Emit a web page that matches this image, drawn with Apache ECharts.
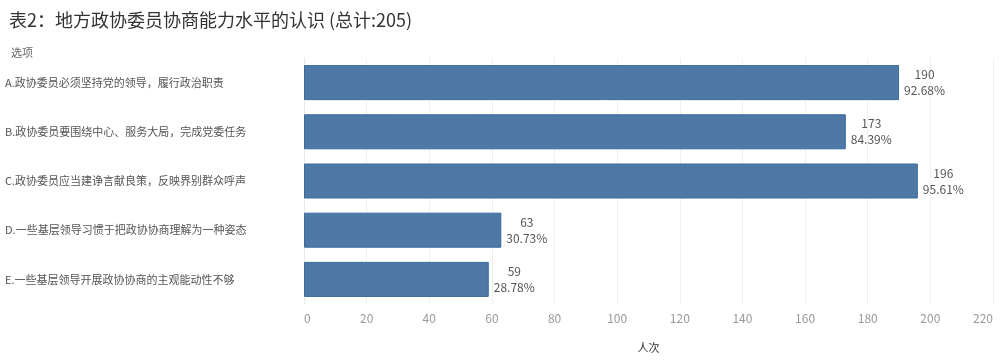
<!DOCTYPE html>
<html><head><meta charset="utf-8">
<script src="https://cdn.jsdelivr.net/npm/echarts@6/dist/echarts.min.js"></script>
<style>html,body{margin:0;padding:0;background:#fff}#c{width:1000px;height:362px}</style>
</head><body><div id="c"></div>
<script>
const categories = [
  "A.政协委员必须坚持党的领导，履行政治职责",
  "B.政协委员要围绕中心、服务大局，完成党委任务",
  "C.政协委员应当建诤言献良策，反映界别群众呼声",
  "D.一些基层领导习惯于把政协协商理解为一种姿态",
  "E.一些基层领导开展政协协商的主观能动性不够"
];
const values = [190, 173, 196, 63, 59];
const percents = ["92.68%", "84.39%", "95.61%", "30.73%", "28.78%"];
const xTicks = [0, 20, 40, 60, 80, 100, 120, 140, 160, 180, 200, 220];

const font = "'Noto Sans CJK SC', 'Noto Sans', sans-serif";
const chart = echarts.init(document.getElementById('c'));
chart.setOption({
  animation: false,
  textStyle: { fontFamily: font },
  title: [
    { text: "表2：地方政协委员协商能力水平的认识 (总计:205)", left: 4, top: 6,
      textStyle: { fontFamily: font, fontSize: 18, fontWeight: 'normal', color: '#333' } },
    { text: "选项", left: 6, top: 42,
      textStyle: { fontFamily: font, fontSize: 11, fontWeight: 'normal', color: '#666' } }
  ],
  grid: { left: 304, right: 7, top: 58, bottom: 58, containLabel: false, outerBoundsMode: 'none' },
  xAxis: {
    type: 'value', min: xTicks[0], max: xTicks[xTicks.length - 1], interval: 20,
    name: "人次", nameLocation: 'middle', nameGap: 38,
    nameTextStyle: { fontFamily: font, fontSize: 11, color: '#333' },
    axisLine: { show: false }, axisTick: { show: false },
    axisLabel: { color: '#999', fontSize: 12, margin: 8, alignMinLabel: 'left', alignMaxLabel: 'right' },
    splitLine: { show: true, lineStyle: { color: '#f0f0f0', width: 1 } }
  },
  yAxis: {
    type: 'category', data: categories, inverse: true,
    axisLine: { show: true, lineStyle: { color: '#e8e8e8' } },
    axisTick: { show: false },
    axisLabel: { align: 'left', margin: 299, color: '#555', fontSize: 11 }
  },
  series: [{
    type: 'bar', data: values, barWidth: 35,
    itemStyle: { color: '#4e79a7', borderColor: '#3a6a9c', borderWidth: 1 },
    label: {
      show: true, position: 'right', distance: 5,
      formatter: p => '{a|' + p.value + '}\n{a|' + percents[p.dataIndex] + '}',
      rich: { a: { align: 'center', fontSize: 12, color: '#555', lineHeight: 16 } }
    }
  }]
});
</script></body></html>
